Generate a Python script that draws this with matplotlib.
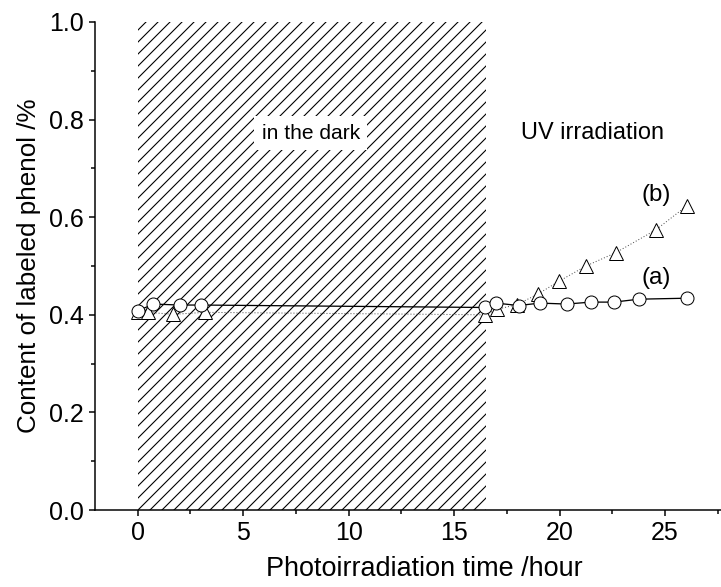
import numpy as np
import matplotlib
matplotlib.use('Agg')
import matplotlib.pyplot as plt
from matplotlib.ticker import MultipleLocator

plt.rcParams['font.family'] = ['Liberation Sans', 'DejaVu Sans']
plt.rcParams['hatch.linewidth'] = 1.1

# (a) labeled phenol, circles, solid line
a_time = [0, 0.75, 2.0, 3.0, 16.46, 16.98, 18.06, 19.07, 20.33, 21.48, 22.57, 23.76, 26.02]
a_content = [0.408, 0.422, 0.420, 0.420, 0.415, 0.424, 0.419, 0.424, 0.422, 0.426, 0.426, 0.432, 0.434]

# (b) labeled phenol, triangles, dotted line
b_time = [0, 0.5, 1.7, 3.2, 16.46, 17.01, 17.99, 18.99, 19.98, 21.25, 22.65, 24.56, 26.02]
b_content = [0.406, 0.405, 0.401, 0.405, 0.400, 0.411, 0.421, 0.443, 0.469, 0.500, 0.527, 0.574, 0.623]

dark_start = 0
dark_end = 16.5

fig = plt.figure(figsize=(721 / 72, 587 / 72), dpi=72)
ax = fig.add_axes([95 / 721, 77 / 587, 626 / 721, 488 / 587])

# dark period shown as hatched band
ax.axvspan(dark_start, dark_end, ymin=0, ymax=1, facecolor='none', edgecolor='black',
           hatch='//', linewidth=0, zorder=0)

ax.plot(b_time, b_content, linestyle=(0, (1, 2)), color='0.3', linewidth=1.0,
        marker='^', markersize=14, markerfacecolor='white', markeredgecolor='black',
        markeredgewidth=1.0, zorder=3)
ax.plot(a_time, a_content, '-', color='black', linewidth=1.3,
        marker='o', markersize=13, markerfacecolor='white', markeredgecolor='black',
        markeredgewidth=1.0, zorder=4)

ax.text(8.2, 0.772, 'in the dark', fontsize=21, ha='center', va='center',
        bbox=dict(boxstyle='square,pad=0.35', facecolor='white', edgecolor='none'), zorder=2)
ax.text(21.55, 0.772, 'UV irradiation', fontsize=23.5, ha='center', va='center')
ax.text(24.6, 0.645, '(b)', fontsize=24, ha='center', va='center')
ax.text(24.6, 0.475, '(a)', fontsize=24, ha='center', va='center')

ax.set_xlim(-2.02, 27.65)
ax.set_ylim(0, 1.0)
ax.xaxis.set_major_locator(MultipleLocator(5))
ax.xaxis.set_minor_locator(MultipleLocator(2.5))
ax.yaxis.set_major_locator(MultipleLocator(0.2))
ax.yaxis.set_minor_locator(MultipleLocator(0.1))
ax.yaxis.set_major_formatter(plt.FormatStrFormatter('%.1f'))

ax.spines['top'].set_visible(False)
ax.spines['right'].set_visible(False)
for s in ['left', 'bottom']:
    ax.spines[s].set_linewidth(1.5)
ax.tick_params(which='major', direction='out', length=6, width=1.5, labelsize=25, pad=5)
ax.tick_params(which='minor', direction='out', length=4, width=1.5)

ax.set_xlabel('Photoirradiation time /hour', fontsize=27)
ax.set_ylabel('Content of labeled phenol /%', fontsize=26, labelpad=8)
ax.xaxis.set_label_coords(0.5256, -0.094)

fig.savefig('out.png', dpi=72)
